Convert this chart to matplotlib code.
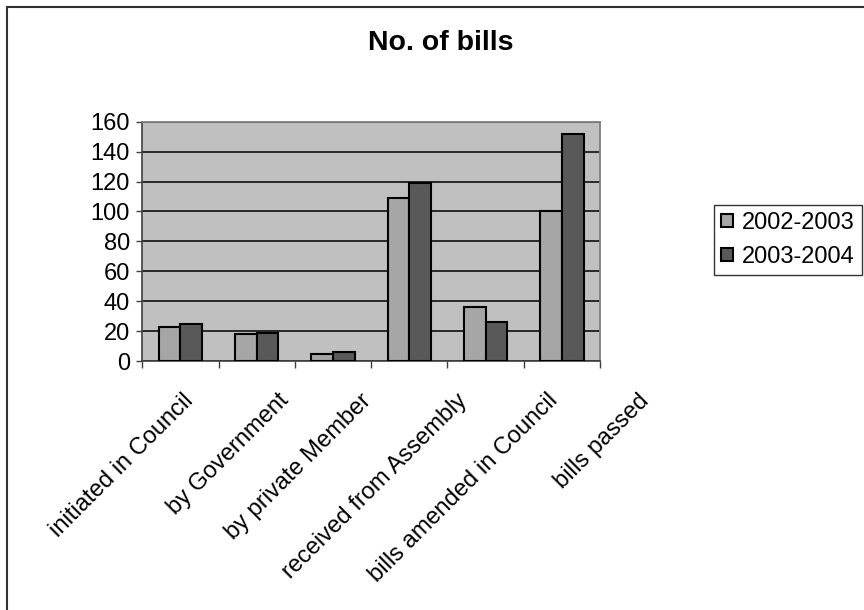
import matplotlib
matplotlib.use("Agg")
import matplotlib.pyplot as plt
from matplotlib.patches import Rectangle
import numpy as np

plt.rcParams['font.family'] = ['Liberation Sans', 'DejaVu Sans']

categories = ["initiated in Council", "by Government", "by private Member",
              "received from Assembly", "bills amended in Council", "bills passed"]
series_names = ["2002-2003", "2003-2004"]
values_2002 = [23, 18, 5, 109, 36, 100]
values_2003 = [25, 19, 6, 119, 26, 152]
y_ticks = [0, 20, 40, 60, 80, 100, 120, 140, 160]

W, H = 864, 610
fig = plt.figure(figsize=(W / 100, H / 100), dpi=100)
ax = fig.add_axes([142.3 / W, 1 - 361 / H, (600 - 142.3) / W, (361 - 121.7) / H])
ax.set_facecolor('#C0C0C0')

x = np.arange(len(categories))
bw = 0.284
ax.bar(x - bw / 2, values_2002, bw, color='#A6A6A6', edgecolor='black', linewidth=1.5,
       label=series_names[0], zorder=3)
ax.bar(x + bw / 2, values_2003, bw, color='#595959', edgecolor='black', linewidth=1.5,
       label=series_names[1], zorder=3)

ax.set_xlim(-0.5, len(categories) - 0.5)
ax.set_ylim(0, 160)
ax.set_yticks(y_ticks)
ax.yaxis.grid(True, color='black', linewidth=1.1, zorder=1)
ax.set_axisbelow(True)
ax.tick_params(axis='y', labelsize=17, length=4, width=1, color='#404040', pad=5)

# tick marks sit between the groups, labels are drawn separately
ax.set_xticks(np.arange(len(categories) + 1) - 0.5)
ax.set_xticklabels([])
ax.tick_params(axis='x', length=5, width=1, color='#404040')

# excel spreads the slanted labels a bit wider than the categories
label_x = [0.03, 1.27, 2.35, 3.62, 4.80, 6.00]
for lx, lab in zip(label_x, categories):
    ax.text(lx, -0.12, lab, transform=ax.get_xaxis_transform(), rotation=45,
            rotation_mode='anchor', ha='right', va='top', fontsize=17, clip_on=False)

for side in ['top', 'right']:
    ax.spines[side].set_color('#808080')
    ax.spines[side].set_linewidth(1.3)
for side in ['left', 'bottom']:
    ax.spines[side].set_color('#404040')
    ax.spines[side].set_linewidth(1.2)

fig.text(441 / W, 1 - 43 / H, "No. of bills", fontsize=20.5, fontweight='bold',
         ha='center', va='center')

leg = fig.legend(loc='upper left', bbox_to_anchor=(714 / W, 1 - 205 / H), borderaxespad=0,
                 fontsize=17, frameon=True, fancybox=False, edgecolor='black',
                 handlelength=0.5, handleheight=0.5, handletextpad=0.4,
                 borderpad=0.3, labelspacing=0.5)
leg.get_frame().set_linewidth(1.0)

# outer chart border (runs off the right and bottom edges)
fig.patches.append(Rectangle((7 / W, -0.1), 1.2, 1.1 - 7 / H, transform=fig.transFigure,
                             fill=False, edgecolor='#303030', linewidth=1.5))

fig.savefig("out.png", dpi=100, facecolor='white')
